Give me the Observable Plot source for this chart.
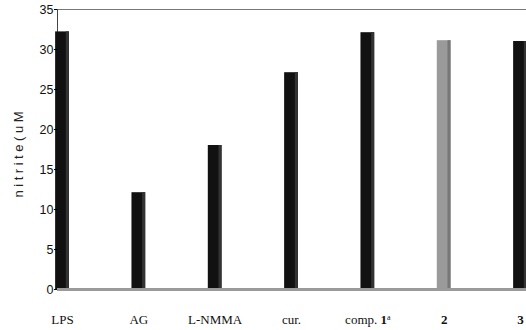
<!DOCTYPE html>
<html>
<head>
<meta charset="utf-8">
<script src="https://cdn.jsdelivr.net/npm/d3@7"></script>
<script src="https://cdn.jsdelivr.net/npm/@observablehq/plot@0.6"></script>
<style>
  html, body { margin: 0; padding: 0; background: #fff; }
</style>
</head>
<body>
<div id="chart"></div>
<script>
const categories = ["LPS", "AG", "L-NMMA", "cur.", "comp. 1a", "2", "3"];
const values = [32.2, 12.1, 18.0, 27.1, 32.1, 31.1, 31.0];
const yTicks = [0, 5, 10, 15, 20, 25, 30, 35];
const yLabel = "nitrite(uM";

const data = categories.map((c, i) => ({i, c, v: values[i]}));
const boldLabels = new Set(["2", "3"]);

const chart = Plot.plot({
  width: 526,
  height: 330,
  marginTop: 9,
  marginBottom: 41,
  marginLeft: 57,
  marginRight: 0,
  x: {domain: [0, 6], range: [62, 520], axis: null},
  y: {domain: [0, 35], ticks: yTicks, label: null},
  style: {fontFamily: "Liberation Sans, Arial, sans-serif", fontSize: "12px", background: "#fff", overflow: "hidden"},
  marks: [
    Plot.ruleY([35], {stroke: "#777", strokeWidth: 1}),
    Plot.frame({anchor: "left", stroke: "#444"}),
    Plot.rectY(data, {
      x1: d => d.i - 0.09, x2: d => d.i + 0.09, y: "v",
      fill: d => d.c === "2" ? "#9a9a9a" : "#111"
    }),
    Plot.rectY(data, {
      x1: d => d.i + 0.05, x2: d => d.i + 0.09, y: "v",
      fill: d => d.c === "2" ? "#777" : "#333"
    }),
    Plot.ruleY([0], {stroke: "#9a9a9a", strokeWidth: 3}),
    Plot.axisY({ticks: yTicks, tickSize: 3, tickPadding: 1, label: null, fill: "#111", fontSize: 12.5}),
    Plot.text(data.filter(d => !boldLabels.has(d.c)), {
      x: "i", y: 0, text: "c", dy: 30,
      fontFamily: "Liberation Serif, Times New Roman, serif", fontSize: 13, fill: "#111"
    }),
    Plot.text(data.filter(d => boldLabels.has(d.c)), {
      x: "i", y: 0, text: "c", dy: 30, fontWeight: "bold",
      fontFamily: "Liberation Serif, Times New Roman, serif", fontSize: 13, fill: "#111"
    }),
    Plot.text([yLabel], {
      frameAnchor: "left", textAnchor: "middle", rotate: -90, dx: -39, dy: 5,
      fontFamily: "Liberation Sans, Arial, sans-serif", fontSize: 13, fill: "#222"
    })
  ]
});

document.getElementById("chart").appendChild(chart);

// rich formatting: "comp. 1ª" with bold 1 and superscript a; widened axis title
d3.select(chart).selectAll("text").each(function() {
  const t = d3.select(this);
  const s = t.text();
  if (s === "comp. 1a") {
    t.text(null);
    t.append("tspan").text("comp. ");
    t.append("tspan").attr("font-weight", "bold").text("1");
    t.append("tspan").attr("font-size", 8).attr("dy", "-0.5em").text("a");
  } else if (s === yLabel) {
    t.attr("textLength", 86).attr("lengthAdjust", "spacing");
  }
});
</script>
</body>
</html>
